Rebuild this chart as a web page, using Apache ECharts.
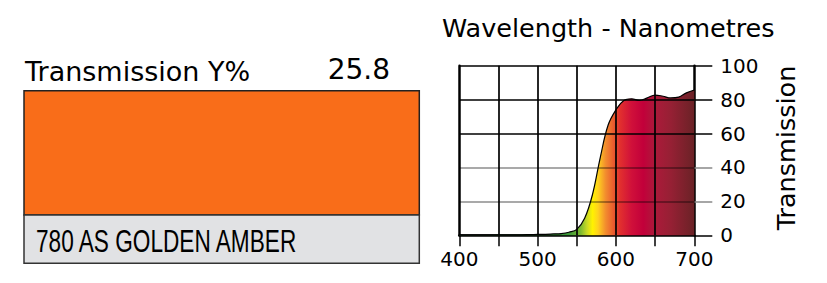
<!DOCTYPE html>
<html><head><meta charset="utf-8">
<script src="https://cdn.jsdelivr.net/npm/echarts@6/dist/echarts.min.js"></script>
<style>html,body{margin:0;padding:0;background:#fff}#c{width:827px;height:283px}</style>
</head><body><div id="c"></div>
<script>
const wavelengths = [400,410,420,430,440,450,460,470,480,490,500,510,520,530,540,550,560,570,580,590,600,610,620,630,640,650,660,670,680,690,700];
const transmission = [0.2,0.2,0.2,0.2,0.2,0.3,0.3,0.3,0.3,0.4,0.5,0.6,0.8,1.0,1.8,3.5,10,24,46,65,74,79.5,80.5,79.5,81,82.7,82,81,81.5,84,85.7];
const xLabelValues = [400,500,600,700];
const xGridValues = [450,500,550,600,650];
const yBlackTicks = [0,60,80,100];
const yGrayTicks = [20,40];
const spectrumStops = [
  [0.0,'#2a7a30'],[0.333,'#2a7a30'],[0.467,'#3c9a38'],[0.517,'#7dba30'],[0.543,'#c8d825'],
  [0.567,'#fff200'],[0.59,'#ffd21e'],[0.623,'#f28c2e'],[0.657,'#ea5a2e'],[0.683,'#e2302e'],
  [0.733,'#d0103a'],[0.783,'#c2003a'],[0.833,'#ac1a3a'],[0.9,'#962034'],[1.0,'#6a2226']
];
const titleText = 'Wavelength - Nanometres';
const yAxisTitle = 'Transmission';
const transLabel = 'Transmission Y%';
const transValue = '25.8';
const filterName = '780 AS GOLDEN AMBER';
const swatchColor = '#f96d19';

const F = 'DejaVu Sans, Verdana, sans-serif';
const chart = echarts.init(document.getElementById('c'), null, {renderer: 'svg'});
const data = wavelengths.map((w, i) => [w, transmission[i]]);

const gridLines = []
  .concat(xGridValues.map(v => ({xAxis: v, lineStyle: {color: '#000', width: 1.7, type: 'solid'}})))
  .concat(yBlackTicks.filter(v => v > 0).map(v => ({yAxis: v, lineStyle: {color: '#000', width: 1.7, type: 'solid'}})))
  .concat(yGrayTicks.map(v => ({yAxis: v, lineStyle: {color: 'rgba(0,0,0,0.45)', width: 1.7, type: 'solid'}})));

const spectrum = new echarts.graphic.LinearGradient(0, 0, 1, 0, spectrumStops.map(s => ({offset: s[0], color: s[1]})));

const option = {
  backgroundColor: '#fff',
  animation: false,
  title: {text: titleText, left: 437, top: 10, textStyle: {fontFamily: F, fontSize: 25.5, fontWeight: 'normal', color: '#000'}},
  grid: {left: 459.3, right: 132.7, top: 65.7, bottom: 47.7, containLabel: false, outerBoundsMode: 'none'},
  xAxis: {
    type: 'value', min: 400, max: 700, interval: 50,
    axisLine: {show: true, lineStyle: {color: '#000', width: 2.5}},
    axisTick: {show: true, length: 11, lineStyle: {color: '#000', width: 1.5}},
    axisLabel: {customValues: xLabelValues, fontFamily: F, fontSize: 20, color: '#000', margin: 14},
    splitLine: {show: false}
  },
  yAxis: [
    {
      type: 'value', position: 'right', min: 0, max: 100, interval: 20,
      axisLine: {show: true, lineStyle: {color: '#000', width: 2.5}},
      axisTick: {show: true, length: 18, customValues: yBlackTicks, lineStyle: {color: '#000', width: 1.5}},
      axisLabel: {fontFamily: F, fontSize: 20, color: '#000', margin: 26, padding: [0, 0, 3, 0]},
      splitLine: {show: false}
    },
    {
      type: 'value', position: 'right', min: 0, max: 100, interval: 20,
      axisLine: {show: false},
      axisTick: {show: true, length: 18, customValues: yGrayTicks, lineStyle: {color: '#888', width: 1.5}},
      axisLabel: {show: false}, splitLine: {show: false}
    },
    {
      type: 'value', position: 'left', min: 0, max: 100, interval: 20,
      axisLine: {show: true, lineStyle: {color: '#000', width: 2.5}},
      axisTick: {show: false}, axisLabel: {show: false}, splitLine: {show: false}
    }
  ],
  series: [
    {
      type: 'line', data: data, smooth: 0.4, symbol: 'none', z: 2,
      lineStyle: {color: '#000', width: 1.2},
      areaStyle: {color: spectrum, opacity: 1}
    },
    {
      type: 'line', data: [], z: 10, symbol: 'none',
      markLine: {silent: true, z: 20, symbol: 'none', label: {show: false}, data: gridLines}
    }
  ],
  graphic: [
    {type: 'rect', shape: {x: 24, y: 90.7, width: 395.3, height: 124.3}, style: {fill: swatchColor, stroke: '#222', lineWidth: 1.5}},
    {type: 'rect', shape: {x: 24, y: 215, width: 395.3, height: 48.3}, style: {fill: '#e1e2e4', stroke: '#333', lineWidth: 1.5}},
    {type: 'text', x: 25, y: 71, style: {text: transLabel, font: '27px ' + F, fill: '#000', verticalAlign: 'middle', align: 'left'}},
    {type: 'text', x: 390, y: 69, style: {text: transValue, font: '28px ' + F, fill: '#000', verticalAlign: 'middle', align: 'right'}},
    {type: 'text', x: 36, y: 241, scaleX: 0.73, style: {text: filterName, font: '31px "Liberation Sans", Arial, sans-serif', fill: '#000', verticalAlign: 'middle', align: 'left'}},
    {type: 'text', x: 786, y: 148, rotation: Math.PI / 2, style: {text: yAxisTitle, font: '25.5px ' + F, fill: '#000', verticalAlign: 'middle', align: 'center'}}
  ]
};
chart.setOption(option);
</script></body></html>
